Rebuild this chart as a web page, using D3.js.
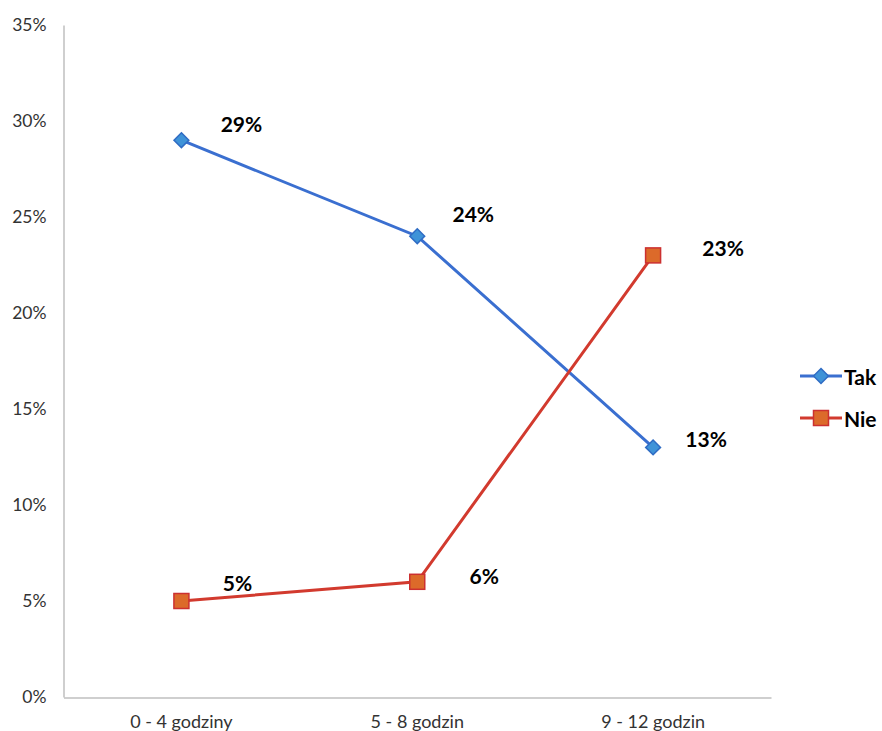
<!DOCTYPE html>
<html><head><meta charset="utf-8">
<script src="https://cdn.jsdelivr.net/npm/d3@7"></script>
<style>body{margin:0;background:#fff;} svg{display:block;}</style>
</head><body>
<svg id="c" width="882" height="731"></svg>
<script>
const categories = ["0 - 4 godziny", "5 - 8 godzin", "9 - 12 godzin"];
const takValues = [29, 24, 13];
const nieValues = [5, 6, 23];
const yTicks = [0, 5, 10, 15, 20, 25, 30, 35];
const seriesNames = ["Tak", "Nie"];
// label offsets (layout only)
const takLabelOffsets = [[60, -17], [56, -23], [53, -9]];
const nieLabelOffsets = [[56, -19], [67, -6], [70, -8]];

const svg = d3.select("#c");
const font = "Lato, 'Open Sans', sans-serif";
const x = d3.scaleBand().domain(categories).range([63.5, 771]).padding(0);
const y = d3.scaleLinear().domain([0, 35]).range([697, 25]);

// y axis
const ya = svg.append("g").attr("transform", "translate(63.5,0)")
  .call(d3.axisLeft(y).tickValues(yTicks).tickFormat(d => d + "%").tickSize(0).tickPadding(17));
ya.select(".domain").attr("stroke", "#bfbfbf").attr("stroke-width", 1.5);
ya.selectAll("text").attr("font-family", font).attr("font-size", 17.5).attr("fill", "#333");

// x axis
const xa = svg.append("g").attr("transform", "translate(0,697.5)")
  .call(d3.axisBottom(x).tickSize(0).tickPadding(18));
xa.select(".domain").attr("stroke", "#bfbfbf").attr("stroke-width", 1.5);
xa.selectAll("text").attr("font-family", font).attr("font-size", 18).attr("fill", "#333");

const cx = c => x(c) + x.bandwidth() / 2;
const line = d3.line().x(d => cx(d.c)).y(d => y(d.v));

const series = [
  {name: seriesNames[0], vals: takValues, offs: takLabelOffsets, line: "#3a6fd0", fill: "#3f93d8", stroke: "#2f6cc4", shape: "diamond"},
  {name: seriesNames[1], vals: nieValues, offs: nieLabelOffsets, line: "#d23a2e", fill: "#dc6a2a", stroke: "#cc3030", shape: "square"}
];

function marker(g, s, px, py) {
  if (s.shape === "diamond") {
    g.append("path").attr("d", d3.symbol(d3.symbolDiamond2, 140)())
      .attr("transform", `translate(${px},${py})`)
      .attr("fill", s.fill).attr("stroke", s.stroke).attr("stroke-width", 1.5);
  } else {
    g.append("rect").attr("x", px - 7.5).attr("y", py - 7.5).attr("width", 15).attr("height", 15)
      .attr("fill", s.fill).attr("stroke", s.stroke).attr("stroke-width", 1.5);
  }
}

series.forEach(s => {
  const data = categories.map((c, i) => ({c, v: s.vals[i]}));
  const g = svg.append("g");
  g.append("path").datum(data).attr("d", line).attr("fill", "none")
    .attr("stroke", s.line).attr("stroke-width", 3);
  data.forEach((d, i) => {
    marker(g, s, cx(d.c), y(d.v));
    g.append("text").attr("x", cx(d.c) + s.offs[i][0]).attr("y", y(d.v) + s.offs[i][1])
      .attr("text-anchor", "middle").attr("dominant-baseline", "central")
      .attr("font-family", font).attr("font-weight", "bold").attr("font-size", 21)
      .attr("fill", "#000").text(d.v + "%");
  });
});

// legend
series.forEach((s, i) => {
  const ly = 376 + i * 42;
  const g = svg.append("g");
  g.append("line").attr("x1", 800).attr("x2", 842).attr("y1", ly).attr("y2", ly)
    .attr("stroke", s.line).attr("stroke-width", 3);
  marker(g, s, 821, ly);
  g.append("text").attr("x", 844).attr("y", ly).attr("dominant-baseline", "central")
    .attr("font-family", font).attr("font-weight", "bold").attr("font-size", 21)
    .attr("fill", "#000").text(s.name);
});
</script>
</body></html>
